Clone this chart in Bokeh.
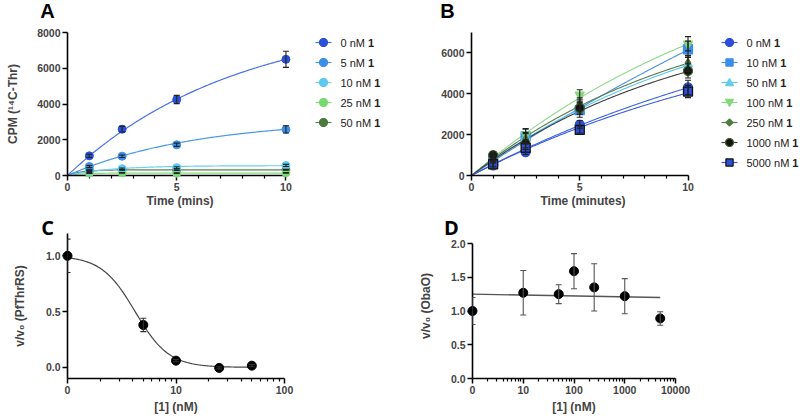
import numpy as np
from bokeh.plotting import figure
from bokeh.layouts import column, row
from bokeh.models import (Range1d, FixedTicker, Whisker, TeeHead, ColumnDataSource,
                          PrintfTickFormatter, CustomJSTickFormatter)
from bokeh.core.properties import value
from bokeh.embed import file_html
from bokeh.resources import INLINE

FONT = "Liberation Sans"

# ---------------- Panel A data ----------------
a_time = [1, 2.5, 5, 10]
a_labels = ["0 nM 1", "5 nM 1", "10 nM 1", "25 nM 1", "50 nM 1"]
a_cpm_0 = [1100, 2590, 4250, 6500]
a_err_0 = [90, 160, 230, 450]
a_cpm_5 = [500, 1080, 1720, 2580]
a_err_5 = [60, 70, 90, 200]
a_cpm_10 = [270, 380, 440, 560]
a_err_10 = [40, 40, 50, 60]
a_cpm_25 = [140, 150, 130, 150]
a_err_25 = [20, 20, 20, 20]
a_cpm_50 = [300, 310, 300, 320]
a_err_50 = [20, 20, 20, 20]
a_fit_ymax = [8935, 3160, 550, 135, 320]
a_fit_k = [0.13, 0.17, 0.5, 1.5, 1.5]
a_colors = ["#2b4fd6", "#3b8fe6", "#5ccaee", "#79d86f", "#4c7a3c"]
a_line_colors = ["#4a72e8", "#4a98ea", "#6fd0f0", "#86dc7c", "#5b8450"]

# ---------------- Panel B data ----------------
b_time = [1, 2.5, 5, 10]
b_labels = ["0 nM 1", "10 nM 1", "50 nM 1", "100 nM 1", "250 nM 1", "1000 nM 1", "5000 nM 1"]
b_cpm_0 = [500, 1150, 2490, 4310]
b_err_0 = [150, 120, 200, 350]
b_cpm_10 = [700, 1920, 3200, 6180]
b_err_10 = [250, 350, 350, 400]
b_cpm_50 = [800, 1850, 3300, 5450]
b_err_50 = [200, 250, 300, 350]
b_cpm_100 = [900, 2000, 3950, 6450]
b_err_100 = [200, 300, 250, 350]
b_cpm_250 = [900, 1800, 3500, 5530]
b_err_250 = [200, 250, 300, 350]
b_cpm_1000 = [1000, 1550, 3300, 5120]
b_err_1000 = [150, 200, 300, 350]
b_cpm_5000 = [550, 1350, 2230, 4110]
b_err_5000 = [200, 200, 150, 300]
b_fit_ymax = [10000, 24200, 9610, 12450, 8900, 8250, 8480]
b_fit_k = [0.0562, 0.0293, 0.0825, 0.0728, 0.0962, 0.0962, 0.0649]
b_markers = ["circle", "square", "triangle", "inverted_triangle", "diamond", "circle", "square"]
b_fill = ["#2b4fd8", "#3b8ee8", "#66cdea", "#86d77a", "#4f7d3f", "#111111", "#2b4fd8"]
b_edge = ["#2b4fd8", "#3b8ee8", "#66cdea", "#86d77a", "#4f7d3f", "#3b5e2b", "#111111"]
b_line_colors = ["#3a64e2", "#4a90e8", "#5cc8ec", "#8ed88a", "#5b7a4f", "#404040", "#3a5ee0"]

# ---------------- Panel C data ----------------
c_conc = [1, 5, 10, 25, 50]          # "0" plotted at 1 on the log axis
c_ratio = [1.0, 0.38, 0.06, -0.005, 0.015]
c_err = [0.15, 0.06, 0.01, 0.01, 0.01]
c_fit_ic50 = 4.2
c_fit_hill = 2.8

# ---------------- Panel D data ----------------
d_conc = [1, 10, 50, 100, 250, 1000, 5000]   # "0" plotted at 1
d_ratio = [1.0, 1.27, 1.25, 1.59, 1.35, 1.22, 0.89]
d_err = [0.2, 0.33, 0.14, 0.26, 0.35, 0.26, 0.1]
d_fit_x = [1, 5000]
d_fit_y = [1.25, 1.2]

# approximate advance widths (em) of Liberation Sans regular, for the mixed-weight legend labels
CHAR_W = {" ": 0.278, "n": 0.556, "M": 0.833}
for _d in "0123456789":
    CHAR_W[_d] = 0.556


def style(p):
    for ax in p.axis:
        ax.axis_line_width = 1.6
        ax.axis_line_color = "black"
        ax.major_tick_line_color = "black"
        ax.major_tick_line_width = 1.5
        ax.minor_tick_line_color = "black"
        ax.minor_tick_line_width = 1.2
        ax.major_tick_out = 5
        ax.major_tick_in = 0
        ax.minor_tick_out = 3
        ax.minor_tick_in = 0
        ax.major_label_text_font = FONT
        ax.major_label_text_font_style = "bold"
        ax.major_label_text_font_size = "10.5px"
        ax.major_label_standoff = 2
        ax.axis_label_text_font = FONT
        ax.axis_label_text_font_style = "bold"
        ax.axis_label_text_font_size = "12px"
    p.xgrid.visible = False
    p.ygrid.visible = False
    p.outline_line_color = None
    p.background_fill_color = "white"
    p.border_fill_color = "white"


def frame_map(x_lo, x_hi, w, y_lo, y_hi, h, xlog=False):
    """pixel offsets (from frame left / frame top) -> data coordinates"""
    def fx(px):
        if xlog:
            a, b = np.log10(x_lo), np.log10(x_hi)
            return 10 ** (a + (b - a) * px / w)
        return x_lo + (x_hi - x_lo) * px / w

    def fy(py):
        return y_hi - (y_hi - y_lo) * py / h
    return fx, fy


def whisker(p, xs, ys, es, color="#222222"):
    src = ColumnDataSource(dict(x=xs, upper=[y + e for y, e in zip(ys, es)],
                                lower=[y - e for y, e in zip(ys, es)]))
    w = Whisker(source=src, base="x", upper="upper", lower="lower",
                line_color=color, line_width=1.1, level="overlay",
                upper_head=TeeHead(size=6, line_color=color, line_width=1.1),
                lower_head=TeeHead(size=6, line_color=color, line_width=1.1))
    p.add_layout(w)


def letter(p, fx, fy, text, px, py, font=FONT):
    p.text([fx(px)], [fy(py)], text=[text], text_font=value(font), text_font_size="20px",
           text_font_style="bold", text_align="center", text_baseline="middle",
           text_color="black", level="overlay")


def marker_outline(marker, r):
    """outline of a legend marker, in pixel offsets from its centre (y downwards)"""
    if marker == "circle":
        t = np.linspace(0, 2 * np.pi, 25)
        return r * np.cos(t), r * np.sin(t)
    if marker == "square":
        s = r * 0.9
        return np.array([-s, s, s, -s]), np.array([-s, -s, s, s])
    if marker == "triangle":
        return np.array([-r, r, 0]), np.array([r * 0.8, r * 0.8, -r * 1.0])
    if marker == "inverted_triangle":
        return np.array([-r, r, 0]), np.array([-r * 0.8, -r * 0.8, r * 1.0])
    if marker == "diamond":
        return np.array([0, r, 0, -r]), np.array([-r, 0, r, 0])
    raise ValueError(marker)


def draw_legend(p, fx, fy, labels, markers, fills, edges, lcolors, x0, y0, size=11):
    for i, lab in enumerate(labels):
        yc_px = y0 + 20 * i
        yc = fy(yc_px)
        p.line([fx(x0), fx(x0 + 16)], [yc, yc], line_color=lcolors[i], line_width=1.2,
               level="overlay")
        ox, oy = marker_outline(markers[i], 4.0 if markers[i] != "diamond" else 3.5)
        p.patch([fx(x0 + 8 + v) for v in ox], [fy(yc_px + v) for v in oy],
                fill_color=fills[i], line_color=edges[i], line_width=1.2, level="overlay")
        head, tail = lab[:-1], lab[-1]
        p.text([fx(x0 + 25)], [yc], text=[head], text_font=value(FONT),
               text_font_size=f"{size}px", text_baseline="middle", text_align="left",
               text_color="#222222", level="overlay")
        wpx = sum(CHAR_W.get(c, 0.556) for c in head) * size
        p.text([fx(x0 + 25 + wpx)], [yc], text=[tail], text_font=value(FONT),
               text_font_size=f"{size}px", text_font_style="bold", text_baseline="middle",
               text_align="left", text_color="#222222", level="overlay")


# ================= Panel A =================
A_L, A_W, A_T, A_H = 67, 225, 32, 143
pa = figure(width=400, height=210, x_range=Range1d(0, 10.3), y_range=Range1d(0, 8000),
            min_border_left=A_L, min_border_right=400 - A_L - A_W, min_border_top=A_T,
            min_border_bottom=210 - A_T - A_H,
            output_backend="svg", toolbar_location=None)
style(pa)
pa.xaxis.ticker = FixedTicker(ticks=[0, 5, 10], minor_ticks=[1, 2, 3, 4, 6, 7, 8, 9])
pa.xaxis.bounds = (0, 10)
pa.yaxis.ticker = FixedTicker(ticks=[0, 2000, 4000, 6000, 8000], minor_ticks=[])
pa.xaxis.axis_label = "Time (mins)"
pa.yaxis.axis_label = "CPM (\u00b9\u2074C-Thr)"
pa.xaxis.axis_label_standoff = 0
pa.yaxis.axis_label_standoff = 14
fxa, fya = frame_map(0, 10.3, A_W, 0, 8000, A_H)

a_vals = [a_cpm_0, a_cpm_5, a_cpm_10, a_cpm_25, a_cpm_50]
a_errs = [a_err_0, a_err_5, a_err_10, a_err_25, a_err_50]
tfit = np.linspace(0, 10, 200)
for i in reversed(range(5)):
    yfit = a_fit_ymax[i] * (1 - np.exp(-a_fit_k[i] * tfit))
    pa.line(tfit, yfit, line_color=a_line_colors[i], line_width=1.2)
    whisker(pa, a_time, a_vals[i], a_errs[i])
    pa.scatter(a_time, a_vals[i], marker="circle", size=8,
               fill_color=a_colors[i], line_color=a_colors[i], level="overlay")
draw_legend(pa, fxa, fya, a_labels, ["circle"] * 5, a_colors, a_colors, a_line_colors,
            248, 10)
letter(pa, fxa, fya, "A", -20, -22)

# ================= Panel B =================
B_L, B_W, B_T, B_H = 71, 223, 32, 143
pb = figure(width=400, height=210, x_range=Range1d(0, 10.3), y_range=Range1d(0, 7000),
            min_border_left=B_L, min_border_right=400 - B_L - B_W, min_border_top=B_T,
            min_border_bottom=210 - B_T - B_H,
            output_backend="svg", toolbar_location=None)
style(pb)
pb.xaxis.ticker = FixedTicker(ticks=[0, 5, 10], minor_ticks=[1, 2, 3, 4, 6, 7, 8, 9])
pb.xaxis.bounds = (0, 10)
pb.yaxis.ticker = FixedTicker(ticks=[0, 2000, 4000, 6000], minor_ticks=[])
pb.xaxis.axis_label = "Time (minutes)"
pb.xaxis.axis_label_standoff = 0
fxb, fyb = frame_map(0, 10.3, B_W, 0, 7000, B_H)

b_vals = [b_cpm_0, b_cpm_10, b_cpm_50, b_cpm_100, b_cpm_250, b_cpm_1000, b_cpm_5000]
b_errs = [b_err_0, b_err_10, b_err_50, b_err_100, b_err_250, b_err_1000, b_err_5000]
for i in range(7):
    yfit = b_fit_ymax[i] * (1 - np.exp(-b_fit_k[i] * tfit))
    pb.line(tfit, yfit, line_color=b_line_colors[i], line_width=1.1)
for i in range(7):
    whisker(pb, b_time, b_vals[i], b_errs[i])
    pb.scatter(b_time, b_vals[i], marker=b_markers[i],
               size=9 if b_markers[i] != "diamond" else 8,
               fill_color=b_fill[i], line_color=b_edge[i], line_width=1.3, level="overlay")
draw_legend(pb, fxb, fyb, b_labels, b_markers, b_fill, b_edge, b_line_colors, 250, 10)
letter(pb, fxb, fyb, "B", -24, -22)

# ================= Panel C =================
C_L, C_W, C_T, C_H = 67, 217, 23, 145
pc = figure(width=400, height=208, x_axis_type="log", x_range=Range1d(1, 100),
            y_range=Range1d(-0.1, 1.2),
            min_border_left=C_L, min_border_right=400 - C_L - C_W, min_border_top=C_T,
            min_border_bottom=208 - C_T - C_H,
            output_backend="svg", toolbar_location=None)
style(pc)
pc.xaxis.ticker = FixedTicker(ticks=[1, 10, 100],
                              minor_ticks=[2, 3, 4, 5, 6, 7, 8, 9, 20, 30, 40, 50, 60, 70, 80, 90])
pc.xaxis.formatter = CustomJSTickFormatter(code="return tick == 1 ? '0' : String(Math.round(tick));")
pc.yaxis.ticker = FixedTicker(ticks=[0, 0.5, 1.0], minor_ticks=[])
pc.yaxis.formatter = PrintfTickFormatter(format="%.1f")
pc.xaxis.axis_label = "[1] (nM)"
pc.yaxis.axis_label = "v/v\u2080 (PfThrRS)"
pc.xaxis.axis_label_standoff = 3
pc.yaxis.axis_label_standoff = 16
fxc, fyc = frame_map(1, 100, C_W, -0.1, 1.2, C_H, xlog=True)

cfit_x = np.logspace(0, np.log10(50), 200)
cfit_y = 1.0 / (1.0 + (cfit_x / c_fit_ic50) ** c_fit_hill)
pc.line(cfit_x, cfit_y, line_color="#444444", line_width=1.2)
whisker(pc, c_conc, c_ratio, c_err, color="#333333")
pc.scatter(c_conc, c_ratio, marker="circle", size=9, fill_color="black", line_color="black",
           level="overlay")
letter(pc, fxc, fyc, "C", -20, -6, font="Open Sans")

# ================= Panel D =================
D_L, D_W, D_T, D_H = 72, 203, 23, 145
D_YTOP = 2.0 * 145 / 135      # frame extends ~10px above the 2.0 end of the axis
pd_ = figure(width=400, height=208, x_axis_type="log", x_range=Range1d(1, 10000),
             y_range=Range1d(0, D_YTOP),
             min_border_left=D_L, min_border_right=400 - D_L - D_W, min_border_top=D_T,
             min_border_bottom=208 - D_T - D_H,
             output_backend="svg", toolbar_location=None)
style(pd_)
d_minor = [m * 10 ** e for e in range(4) for m in range(2, 10)]
pd_.xaxis.ticker = FixedTicker(ticks=[1, 10, 100, 1000, 10000], minor_ticks=d_minor)
pd_.xaxis.formatter = CustomJSTickFormatter(code="return tick == 1 ? '0' : String(Math.round(tick));")
pd_.yaxis.ticker = FixedTicker(ticks=[0, 0.5, 1.0, 1.5, 2.0], minor_ticks=[])
pd_.yaxis.formatter = PrintfTickFormatter(format="%.1f")
pd_.yaxis.bounds = (0, 2.0)
pd_.xaxis.axis_label = "[1] (nM)"
pd_.yaxis.axis_label = "v/v\u2080 (ObaO)"
pd_.xaxis.axis_label_standoff = 3
pd_.yaxis.axis_label_standoff = 15
fxd, fyd = frame_map(1, 10000, D_W, 0, D_YTOP, D_H, xlog=True)

pd_.line(d_fit_x, d_fit_y, line_color="#555555", line_width=1.3)
whisker(pd_, d_conc, d_ratio, d_err, color="#555555")
pd_.scatter(d_conc, d_ratio, marker="circle", size=9, fill_color="black", line_color="black",
            level="overlay")
letter(pd_, fxd, fyd, "D", -21, -6, font="Open Sans")

layout = column(row(pa, pb, spacing=0), row(pc, pd_, spacing=0), spacing=0)
open("out.html", "w").write(file_html(layout, INLINE))
